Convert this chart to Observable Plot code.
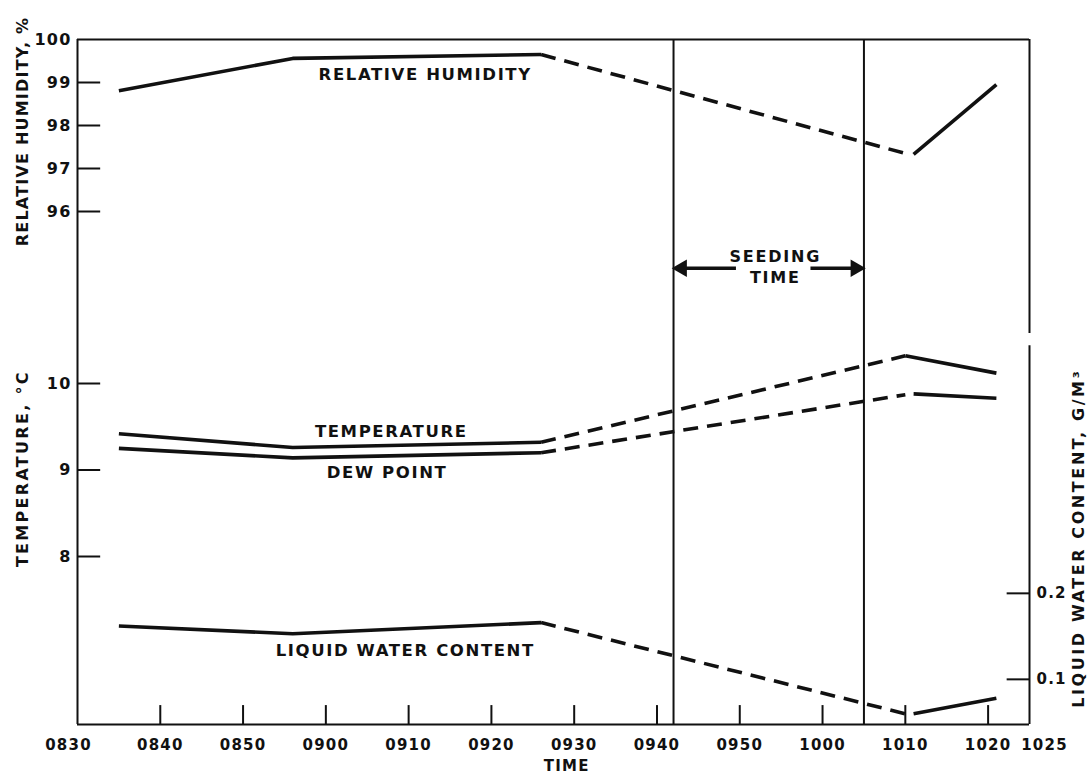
<!DOCTYPE html>
<html><head><meta charset="utf-8">
<script src="https://cdn.jsdelivr.net/npm/d3@7"></script>
<script src="https://cdn.jsdelivr.net/npm/@observablehq/plot@0.6"></script>
<style>
body{margin:0;background:#fff;}
#chart svg{font-family:"DejaVu Sans",sans-serif;font-weight:bold;letter-spacing:1.2px;}
</style></head><body><div id="chart"></div>
<script>
// ---- data ----
const xTickLabels = ["0830","0840","0850","0900","0910","0920","0930","0940","0950","1000","1010","1020","1025"];
const rhTicks = [100, 99, 98, 97, 96];
const tempTicks = [10, 9, 8];
const lwcTicks = [0.2, 0.1];
const seeding = ["0942", "1005"];

// relative humidity, %
const rhTimesA = ["0835","0856","0926"], rhValuesA = [98.81, 99.56, 99.65];
const rhTimesD = ["0926","1010"],        rhValuesD = [99.65, 97.35];
const rhTimesB = ["1011","1021"],        rhValuesB = [97.33, 98.95];
// temperature, °C
const tTimesA = ["0835","0856","0926"], tValuesA = [9.42, 9.26, 9.32];
const tTimesD = ["0926","1010"],        tValuesD = [9.32, 10.32];
const tTimesB = ["1010","1021"],        tValuesB = [10.32, 10.12];
// dew point, °C
const dTimesA = ["0835","0856","0926"], dValuesA = [9.25, 9.14, 9.20];
const dTimesD = ["0926","1010"],        dValuesD = [9.20, 9.87];
const dTimesB = ["1011","1021"],        dValuesB = [9.88, 9.83];
// liquid water content, g/m3
const lTimesA = ["0835","0856","0926"], lValuesA = [0.162, 0.153, 0.166];
const lTimesD = ["0926","1010"],        lValuesD = [0.166, 0.060];
const lTimesB = ["1011","1021"],        lValuesB = [0.060, 0.078];

// ---- scales helpers ----
const toMin = s => (+s.slice(0,2))*60 + (+s.slice(2)) - 510;   // minutes since 0830
const yRH = v => v;
const yT  = t => 92 + (t - 10) * 2.0116;
const yL  = w => 87.12 + (w - 0.2) * 20;
const yMin = 84.07, yMax = 100, xMax = 115;

const series = (times, values, f) => times.map((t, i) => ({x: toMin(t), y: f(values[i])}));
const solid = {x: "x", y: "y", stroke: "#111", strokeWidth: 3.6, strokeLinecap: "butt"};
const dashed = {...solid, strokeDasharray: "15,9"};

const font = {fontSize: 16, fontWeight: "bold", fill: "#111"};
const ink = "#111";

const xt = xTickLabels.map(l => ({x: toMin(l), l}));
const s0 = toMin(seeding[0]), s1 = toMin(seeding[1]);

const chart = Plot.plot({
  width: 1087, height: 775,
  marginLeft: 77, marginRight: 58, marginTop: 39, marginBottom: 51,
  x: {domain: [0, xMax], axis: null},
  y: {domain: [yMin, yMax], axis: null},
  style: {background: "#fff", color: ink},
  marks: [
    // frame
    Plot.ruleY([yMax], {stroke: ink, strokeWidth: 2}),
    Plot.ruleY([yMin], {stroke: ink, strokeWidth: 2}),
    Plot.ruleX([0], {stroke: ink, strokeWidth: 2}),
    Plot.ruleX([{x: xMax, y1: yMin, y2: 92.88}, {x: xMax, y1: 93.16, y2: yMax}], {x: "x", y1: "y1", y2: "y2", stroke: ink, strokeWidth: 2}),
    // seeding lines
    Plot.ruleX(seeding.map(toMin), {stroke: ink, strokeWidth: 2}),
    // ticks
    Plot.ruleY(rhTicks.filter(v => v < 100).map(v => ({y: yRH(v)})), {y: "y", x1: () => 0, x2: () => 2.8, stroke: ink, strokeWidth: 2}),
    Plot.ruleY(tempTicks.map(v => ({y: yT(v)})), {y: "y", x1: () => 0, x2: () => 2.8, stroke: ink, strokeWidth: 2}),
    Plot.ruleY(lwcTicks.map(v => ({y: yL(v)})), {y: "y", x1: () => xMax - 2.7, x2: () => xMax, stroke: ink, strokeWidth: 2}),
    Plot.ruleX(xt.slice(1, -1), {x: "x", y1: () => yMin, y2: () => yMin + 0.44, stroke: ink, strokeWidth: 2}),
    // tick labels
    Plot.text(xt.slice(1, -1), {x: "x", y: () => yMin, text: "l", dy: 21, ...font, fontSize: 15}),
    Plot.text(xt.slice(0, 1), {x: "x", y: () => yMin, text: "l", dy: 21, dx: -9, ...font, fontSize: 15}),
    Plot.text(xt.slice(-1), {x: "x", y: () => yMin, text: "l", dy: 21, dx: 15, ...font, fontSize: 15}),
    Plot.text(rhTicks.map(v => ({y: yRH(v), l: String(v)})), {y: "y", x: () => 0, text: "l", dx: -6, textAnchor: "end", ...font}),
    Plot.text(tempTicks.map(v => ({y: yT(v), l: String(v)})), {y: "y", x: () => 0, text: "l", dx: -6, textAnchor: "end", ...font}),
    Plot.text(lwcTicks.map(v => ({y: yL(v), l: String(v)})), {y: "y", x: () => xMax, text: "l", dx: 7, textAnchor: "start", ...font, fontSize: 15}),
    // axis titles
    Plot.text([{y: 97.86, l: "RELATIVE HUMIDITY, %"}], {y: "y", x: () => 0, text: "l", dx: -55, rotate: -90, ...font}),
    Plot.text([{y: 90.02, l: "TEMPERATURE, °C"}], {y: "y", x: () => 0, text: "l", dx: -55, rotate: -90, ...font}),
    Plot.text([{y: 88.40, l: "LIQUID WATER CONTENT, G/M³"}], {y: "y", x: () => xMax, text: "l", dx: 49, rotate: -90, ...font}),
    Plot.text([{x: 59.1, l: "TIME"}], {x: "x", y: () => yMin, text: "l", dy: 42, ...font, fontSize: 15}),
    // data lines
    Plot.line(series(rhTimesA, rhValuesA, yRH), solid),
    Plot.line(series(rhTimesD, rhValuesD, yRH), dashed),
    Plot.line(series(rhTimesB, rhValuesB, yRH), solid),
    Plot.line(series(tTimesA, tValuesA, yT), solid),
    Plot.line(series(tTimesD, tValuesD, yT), dashed),
    Plot.line(series(tTimesB, tValuesB, yT), solid),
    Plot.line(series(dTimesA, dValuesA, yT), solid),
    Plot.line(series(dTimesD, dValuesD, yT), dashed),
    Plot.line(series(dTimesB, dValuesB, yT), solid),
    Plot.line(series(lTimesA, lValuesA, yL), solid),
    Plot.line(series(lTimesD, lValuesD, yL), dashed),
    Plot.line(series(lTimesB, lValuesB, yL), solid),
    // series labels
    Plot.text([{x: 42.0, y: 99.18, l: "RELATIVE HUMIDITY"}], {x: "x", y: "y", text: "l", ...font, fontSize: 16.5}),
    Plot.text([{x: 37.9, y: 90.88, l: "TEMPERATURE"}], {x: "x", y: "y", text: "l", ...font, fontSize: 16.5}),
    Plot.text([{x: 37.4, y: 89.93, l: "DEW POINT"}], {x: "x", y: "y", text: "l", ...font, fontSize: 16.5}),
    Plot.text([{x: 39.6, y: 85.79, l: "LIQUID WATER CONTENT"}], {x: "x", y: "y", text: "l", ...font, fontSize: 16.5}),
    // seeding annotation
    Plot.ruleY([{y: 94.68, x1: s0 + 1.2, x2: s0 + 7.6}, {y: 94.68, x1: s1 - 6.4, x2: s1 - 1.2}],
      {y: "y", x1: "x1", x2: "x2", stroke: ink, strokeWidth: 3.4}),
    Plot.dot([{x: s0 + 1.0, y: 94.68, r: -90}, {x: s1 - 1.0, y: 94.68, r: 90}],
      {x: "x", y: "y", symbol: "triangle", rotate: "r", r: 6.5, fill: ink, stroke: "none"}),
    Plot.text([{x: (s0 + s1) / 2 + 0.8, y: 94.74, l: "SEEDING\nTIME"}], {x: "x", y: "y", text: "l", lineHeight: 1.35, ...font})
  ]
});
document.getElementById("chart").appendChild(chart);

// letter spacing tweaks for the wide lettering of the original
const spacing = {
  "RELATIVE HUMIDITY": 1.6, "TEMPERATURE": 1.6, "DEW POINT": 1.6, "LIQUID WATER CONTENT": 1.6,
  "TEMPERATURE, °C": 2.3, "LIQUID WATER CONTENT, G/M³": 2.6, "SEEDINGTIME": 1.8
};
d3.select(chart).selectAll("text").each(function () {
  const s = spacing[this.textContent];
  if (s != null) this.setAttribute("letter-spacing", s + "px");
});
</script>
</body></html>
